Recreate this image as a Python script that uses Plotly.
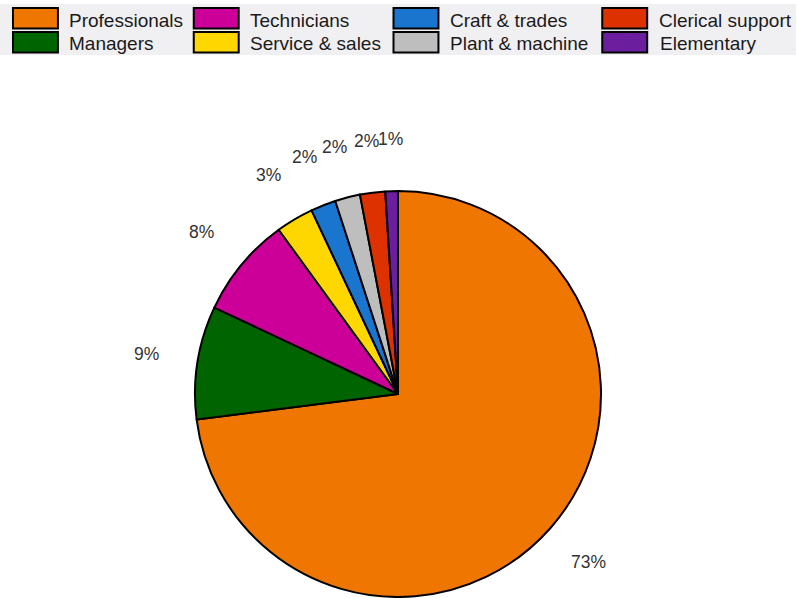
import math
import plotly.graph_objects as go

categories = ["Professionals", "Managers", "Technicians", "Service & sales",
              "Craft & trades", "Plant & machine", "Clerical support", "Elementary"]
shares = [73, 9, 8, 3, 2, 2, 2, 1]
colors = ["#EF7600", "#006400", "#CC0099", "#FFD700",
          "#1A75CF", "#BEBEBE", "#DD3200", "#6B1E9E"]

W, H = 797, 598
FONT = "Arial, Liberation Sans, sans-serif"

# pie geometry (pixels from top-left)
cx, cy, r = 398.5, 394.0, 203.0
dom_y = [(H - cy - r) / H, (H - cy + r) / H]

fig = go.Figure()
fig.add_trace(go.Pie(
    labels=categories, values=shares, sort=False, direction="clockwise",
    rotation=0, marker=dict(colors=colors, line=dict(color="black", width=2)),
    textinfo="none", hoverinfo="label+percent", showlegend=False,
    domain=dict(x=[0, 1], y=dom_y),
))

# legend: 4 columns x 2 rows, column-major (one single-entry legend per cell)
col_x = [9, 190, 390, 600]
sw_x = [13, 194, 394, 603]
row_y = [20, 43]
sw_top = [8, 32]
sw_w, sw_h = 45, 20.5
legend_layouts = {}
shapes = [dict(type="rect", xref="paper", yref="paper", x0=0, x1=1,
               y0=1 - 55 / H, y1=1 - 4 / H, fillcolor="#F0EFF2",
               line=dict(width=0), layer="below")]
for i, (cat, col) in enumerate(zip(categories, colors)):
    lname = "legend" if i == 0 else f"legend{i+1}"
    c, rr = divmod(i, 2)
    fig.add_trace(go.Bar(x=[None], y=[None], name=cat, legend=lname,
                         marker=dict(color=col, line=dict(color=col, width=0)),
                         showlegend=True))
    legend_layouts[lname] = dict(
        x=col_x[c] / W, xanchor="left", y=1 - row_y[rr] / H, yanchor="middle",
        orientation="v", bgcolor="rgba(0,0,0,0)", borderwidth=0,
        itemwidth=50, font=dict(family=FONT, size=19, color="#1a1a1a"),
    )
    # enlarged legend swatch behind the legend symbol
    shapes.append(dict(
        type="rect", xref="paper", yref="paper",
        x0=sw_x[c] / W, x1=(sw_x[c] + sw_w) / W,
        y0=1 - (sw_top[rr] + sw_h) / H, y1=1 - sw_top[rr] / H,
        fillcolor=col, line=dict(color="black", width=2), layer="below",
    ))

# percentage labels around the pie
total = sum(shares)
cum = 0.0
annotations = []
for v in shares:
    mid = (cum + v / 2) / total * 2 * math.pi
    cum += v
    k = 1.255
    xp = cx + k * r * math.sin(mid)
    yp = cy - k * r * math.cos(mid)
    annotations.append(dict(
        x=xp / W, y=1 - yp / H, xref="paper", yref="paper",
        text=f"{round(v / total * 100)}%", showarrow=False,
        xanchor="center", yanchor="middle",
        font=dict(family=FONT, size=17.5, color="#333333"),
    ))

fig.update_layout(
    width=W, height=H, margin=dict(l=0, r=0, t=0, b=0),
    paper_bgcolor="white", plot_bgcolor="white",
    xaxis=dict(visible=False), yaxis=dict(visible=False),
    annotations=annotations, shapes=shapes,
    **legend_layouts,
)

fig.write_html("out.html", config={"displayModeBar": False},
               post_script="document.body.style.margin='0px';document.body.style.overflow='hidden';")
